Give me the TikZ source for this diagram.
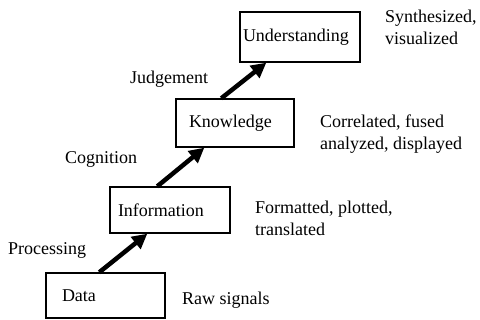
\documentclass[tikz,border=0pt]{standalone}
\usepackage{fontspec}
\setmainfont{Liberation Serif}
\usetikzlibrary{arrows.meta}
\begin{document}
\begin{tikzpicture}[x=1pt,y=-1pt,
  box/.style={draw,line width=1.4pt,text width=#1,align=left,inner ysep=0pt,font=\fontsize{18}{20}\selectfont},
  lbl/.style={anchor=west,align=left,inner sep=0pt,font=\fontsize{18}{22}\selectfont},
  arr/.style={line width=4.5pt,-{Triangle[length=15pt,width=15pt]}}]
\useasboundingbox (0,0) rectangle (480,320);
\node[box=87pt,inner xsep=16pt,minimum height=45pt] (data) at (105.5,295.5) {Data};
\node[box=104pt,inner xsep=8pt,minimum height=46pt] (info) at (170,210) {Information};
\node[box=92pt,inner xsep=13pt,minimum height=48pt] (know) at (235,123) {Knowledge};
\node[box=114pt,inner xsep=3pt,minimum height=50pt] (und) at (300,37) {Understanding};
\draw[arr] ([xshift=54pt]data.north west) -- ([xshift=38pt]info.south west);
\draw[arr] ([xshift=48pt]info.north west) -- ([xshift=29pt]know.south west);
\draw[arr] ([xshift=46pt]know.north west) -- ([xshift=27pt]und.south west);
\node[lbl] (l1) at (385,27) {Synthesized,\\visualized};
\node[lbl] (l2) at (320,134) {Correlated, fused\\analyzed, displayed};
\node[lbl] (l3) at (255,218) {Formatted, plotted,\\translated};
\node[lbl] (l4) at (182,300) {Raw signals};
\node[lbl] (p1) at (130,79) {Judgement};
\node[lbl] (p2) at (65,159) {Cognition};
\node[lbl] (p3) at (8,250) {Processing};
\end{tikzpicture}
\end{document}
